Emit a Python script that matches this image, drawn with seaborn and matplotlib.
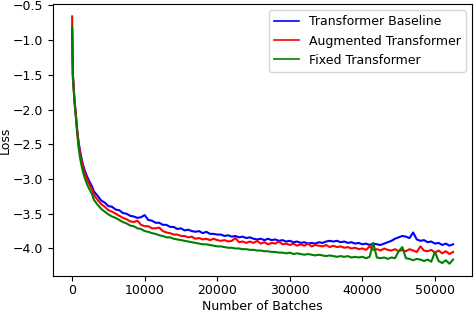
import matplotlib
matplotlib.use("Agg")
import matplotlib.pyplot as plt
import seaborn as sns
import pandas as pd

# logged batch numbers: dense at the start, then every 500 batches
early_batches = [0, 100, 200, 300, 400, 500, 700, 900, 1100, 1300,
                 1500, 1750, 2000, 2250, 2500, 2750]
late_batches = list(range(3000, 52501, 500))
batches = early_batches + late_batches

baseline_early = [-0.86, -1.50, -1.66, -1.82, -1.95, -2.06, -2.30, -2.48, -2.60, -2.71,
                  -2.80, -2.88, -2.95, -3.01, -3.06, -3.11]
augmented_early = [-0.66, -1.50, -1.66, -1.82, -1.95, -2.06, -2.30, -2.50, -2.63, -2.74,
                   -2.83, -2.92, -2.99, -3.05, -3.10, -3.15]
fixed_early = [-0.81, -1.55, -1.70, -1.86, -1.99, -2.10, -2.35, -2.56, -2.70, -2.81,
               -2.90, -2.99, -3.06, -3.12, -3.17, -3.22]

baseline_late = [
    -3.18, -3.24, -3.31, -3.34, -3.39, -3.40, -3.44, -3.45, -3.49, -3.50,
    -3.53, -3.54, -3.56, -3.55, -3.52, -3.59, -3.60, -3.63, -3.63, -3.66,
    -3.66, -3.69, -3.69, -3.72, -3.71, -3.74, -3.73, -3.75, -3.76, -3.75,
    -3.78, -3.76, -3.79, -3.79, -3.80, -3.80, -3.82, -3.81, -3.83, -3.82,
    -3.84, -3.83, -3.85, -3.84, -3.86, -3.87, -3.86, -3.88, -3.86, -3.88,
    -3.87, -3.89, -3.88, -3.90, -3.89, -3.91, -3.90, -3.92, -3.91, -3.93,
    -3.92, -3.93, -3.91, -3.92, -3.90, -3.89, -3.90, -3.89, -3.91, -3.90,
    -3.92, -3.91, -3.93, -3.92, -3.94, -3.93, -3.95, -3.93, -3.94, -3.95,
    -3.93, -3.91, -3.89, -3.86, -3.84, -3.82, -3.83, -3.85, -3.77, -3.87,
    -3.89, -3.88, -3.91, -3.90, -3.93, -3.92, -3.95, -3.93, -3.96, -3.94,
]
augmented_late = [
    -3.23, -3.30, -3.36, -3.40, -3.45, -3.47, -3.50, -3.53, -3.56, -3.58,
    -3.61, -3.62, -3.60, -3.66, -3.68, -3.68, -3.71, -3.71, -3.70, -3.75,
    -3.77, -3.78, -3.80, -3.80, -3.82, -3.82, -3.84, -3.83, -3.86, -3.85,
    -3.87, -3.86, -3.88, -3.86, -3.88, -3.89, -3.88, -3.90, -3.89, -3.85,
    -3.91, -3.90, -3.92, -3.90, -3.92, -3.89, -3.93, -3.91, -3.94, -3.92,
    -3.93, -3.90, -3.94, -3.93, -3.95, -3.93, -3.96, -3.94, -3.96, -3.93,
    -3.97, -3.95, -3.96, -3.97, -3.95, -3.98, -3.96, -3.98, -3.97, -3.99,
    -3.98, -4.00, -3.99, -4.01, -4.00, -4.02, -3.97, -4.02, -4.01, -4.03,
    -4.00, -4.02, -4.03, -4.01, -4.04, -4.02, -4.04, -4.01, -4.03, -4.05,
    -3.97, -4.03, -4.04, -4.02, -4.06, -4.03, -4.07, -4.04, -4.08, -4.05,
]
fixed_late = [
    -3.30, -3.37, -3.43, -3.47, -3.51, -3.54, -3.56, -3.59, -3.62, -3.64,
    -3.67, -3.68, -3.71, -3.72, -3.75, -3.76, -3.78, -3.79, -3.81, -3.82,
    -3.84, -3.84, -3.86, -3.87, -3.88, -3.89, -3.90, -3.91, -3.92, -3.93,
    -3.94, -3.94, -3.95, -3.96, -3.97, -3.97, -3.98, -3.99, -3.99, -4.00,
    -4.00, -4.01, -4.01, -4.02, -4.02, -4.03, -4.03, -4.04, -4.04, -4.05,
    -4.05, -4.06, -4.06, -4.07, -4.06, -4.08, -4.07, -4.08, -4.09, -4.08,
    -4.09, -4.10, -4.09, -4.10, -4.11, -4.10, -4.11, -4.12, -4.11, -4.12,
    -4.11, -4.13, -4.12, -4.13, -4.12, -4.14, -4.12, -3.92, -4.13, -4.14,
    -4.13, -4.15, -4.13, -4.14, -4.04, -3.98, -4.14, -4.15, -4.17, -4.15,
    -4.16, -4.18, -4.16, -4.19, -4.05, -4.18, -4.21, -4.17, -4.22, -4.16,
]

series_names = ["Transformer Baseline", "Augmented Transformer", "Fixed Transformer"]
series_losses = [baseline_early + baseline_late,
                 augmented_early + augmented_late,
                 fixed_early + fixed_late]
colors = {"Transformer Baseline": "blue",
          "Augmented Transformer": "red",
          "Fixed Transformer": "green"}

rows = []
for name, losses in zip(series_names, series_losses):
    assert len(losses) == len(batches), name
    for b, v in zip(batches, losses):
        rows.append({"Number of Batches": b, "Loss": v, "Model": name})
df = pd.DataFrame(rows)

plt.rcParams["font.size"] = 9

fig, ax = plt.subplots(figsize=(4.74, 3.12), dpi=100)
sns.lineplot(data=df, x="Number of Batches", y="Loss", hue="Model",
             hue_order=series_names, palette=colors, errorbar=None,
             estimator=None, linewidth=1.5, ax=ax)

sns.move_legend(ax, "upper right", title=None)
for line in ax.get_legend().get_lines():
    line.set_linewidth(1.2)

ax.tick_params(axis="x", pad=2)
ax.yaxis.set_label_coords(-0.098, 0.5)
ax.xaxis.set_label_coords(0.5, -0.089)

fig.subplots_adjust(left=0.112, right=0.996, top=0.987, bottom=0.115)
fig.savefig("out.png", dpi=100)
